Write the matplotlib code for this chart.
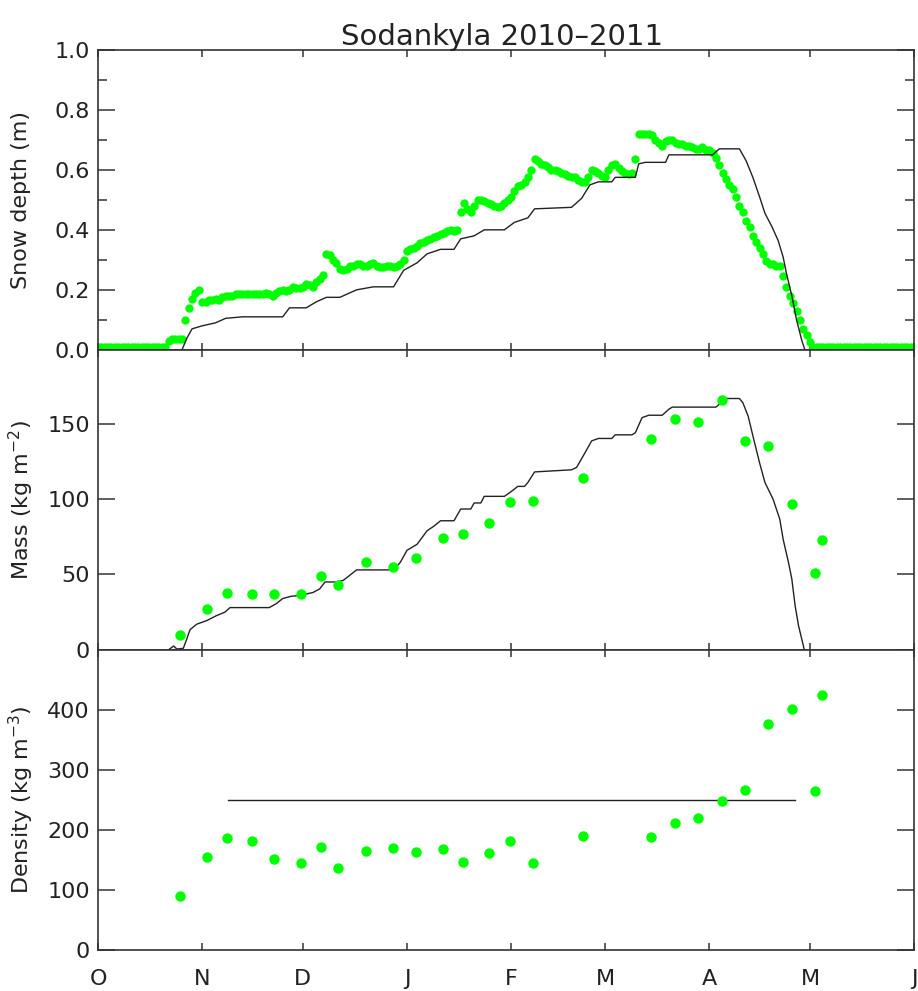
import numpy as np
import matplotlib
matplotlib.use('Agg')
import matplotlib.pyplot as plt

# x axis: days since 1 Oct 2010
month_days = [0, 31, 61, 92, 123, 151, 182, 212, 243]
month_labels = ['O', 'N', 'D', 'J', 'F', 'M', 'A', 'M', 'J']

# observed snow depth (m), one value per day from 1 Oct
obs_depth = [
    0.01, 0.01, 0.01, 0.01, 0.01, 0.01, 0.01, 0.01, 0.01, 0.01,
    0.01, 0.01, 0.01, 0.01, 0.01, 0.01, 0.01, 0.01, 0.01, 0.01,
    0.01,
    0.03, 0.035, 0.035, 0.035, 0.035, 0.10, 0.14, 0.17, 0.19, 0.20,
    0.16, 0.16, 0.165, 0.165, 0.17, 0.165, 0.175, 0.18, 0.18, 0.18,
    0.185, 0.185, 0.185, 0.185, 0.185, 0.185, 0.185, 0.185, 0.185, 0.19,
    0.185, 0.18, 0.19, 0.195, 0.20, 0.195, 0.20, 0.21, 0.205, 0.205,
    0.21, 0.22, 0.215, 0.21, 0.225, 0.235, 0.25, 0.32, 0.315, 0.30,
    0.29, 0.27, 0.265, 0.27, 0.28, 0.28, 0.285, 0.285, 0.28, 0.28,
    0.285, 0.29, 0.28, 0.275, 0.275, 0.28, 0.28, 0.275, 0.28, 0.285,
    0.30, 0.33, 0.335, 0.34, 0.345, 0.355, 0.36, 0.365, 0.37, 0.375,
    0.38, 0.385, 0.39, 0.395, 0.40, 0.395, 0.40, 0.46, 0.49, 0.47,
    0.46, 0.48, 0.50, 0.50, 0.495, 0.49, 0.485, 0.48, 0.475, 0.48,
    0.49, 0.50, 0.51, 0.53, 0.545, 0.55, 0.56, 0.575, 0.60, 0.635,
    0.63, 0.62, 0.615, 0.61, 0.60, 0.60, 0.595, 0.59, 0.585, 0.58,
    0.575, 0.575, 0.565, 0.56, 0.56, 0.575, 0.60, 0.595, 0.59, 0.58,
    0.575, 0.60, 0.615, 0.62, 0.605, 0.595, 0.59, 0.585, 0.59, 0.635,
    0.72, 0.72, 0.72, 0.72, 0.715, 0.70, 0.69, 0.68, 0.695, 0.70,
    0.70, 0.69, 0.685, 0.685, 0.68, 0.68, 0.675, 0.67, 0.67, 0.675,
    0.665, 0.665, 0.655, 0.64, 0.615, 0.59, 0.57, 0.55, 0.535, 0.51,
    0.48, 0.46, 0.43, 0.41, 0.38, 0.36, 0.34, 0.32, 0.295, 0.285,
    0.285, 0.28, 0.28, 0.245, 0.21, 0.18, 0.155, 0.13, 0.10, 0.07,
    0.05, 0.025,
    0.01, 0.01, 0.01, 0.01, 0.01, 0.01, 0.01, 0.01, 0.01, 0.01,
    0.01, 0.01, 0.01, 0.01, 0.01, 0.01, 0.01, 0.01, 0.01, 0.01,
    0.01, 0.01, 0.01, 0.01, 0.01, 0.01, 0.01, 0.01, 0.01, 0.01,
    0.01,
]
obs_days = np.arange(len(obs_depth))

# modelled snow depth (m)
model_depth_days = [0, 21, 25, 26.5, 28, 31, 35, 38, 43, 55, 57, 62, 65, 68, 72,
                    75, 77, 82, 88, 91, 95, 98, 102, 106, 108, 112, 115, 121,
                    124, 128, 130, 141, 144, 146.5, 149, 153, 154, 160, 161,
                    163, 169, 170, 183, 185, 191, 193, 195, 197, 198.6, 200.7,
                    202.5, 204, 205, 206.7, 208, 209.6, 210.5, 243]
model_depth = [0, 0, 0, 0.04, 0.07, 0.08, 0.09, 0.105, 0.11, 0.11, 0.14, 0.14,
               0.16, 0.175, 0.175, 0.19, 0.20, 0.21, 0.21, 0.265, 0.29, 0.32,
               0.335, 0.335, 0.37, 0.38, 0.40, 0.40, 0.425, 0.44, 0.47, 0.475,
               0.505, 0.55, 0.56, 0.56, 0.575, 0.575, 0.62, 0.625, 0.625,
               0.65, 0.65, 0.67, 0.67, 0.63, 0.575, 0.51, 0.455, 0.41, 0.365,
               0.31, 0.255, 0.175, 0.10, 0.03, 0, 0]

# modelled snow mass (kg m-2)
model_mass_days = [21, 22.5, 23.5, 25.4, 26.4, 27.4, 29.4, 32.4, 35.3, 37.8,
                   39.3, 51, 53, 55, 57.5, 60, 64, 66, 67.6, 71, 73, 75, 77,
                   88, 90, 92, 95, 98, 100, 102, 106, 108, 111, 112, 114, 115,
                   121, 122.7, 125, 127, 128, 130, 141, 142.5, 144.5, 147, 149,
                   153, 154, 159, 160, 162, 164, 168, 170, 171, 184, 187, 191,
                   192, 193.6, 195, 197, 198.6, 201, 203, 204, 205.6, 206.6,
                   207.6, 208.6, 210, 210.3]
model_mass = [0, 2.5, 0.5, 1, 7, 13.4, 17, 19.4, 22.7, 25, 28, 28, 30.5, 34,
              35.5, 36, 38, 40.4, 45, 45, 46, 49.5, 53, 53, 58, 66, 70, 79, 82,
              85.6, 85.6, 93.4, 93.4, 97.4, 97.4, 101.8, 101.8, 104.4, 108.4,
              108.4, 111, 118, 119.4, 121, 128.7, 138.6, 140.2, 140.2, 142.6,
              142.6, 144, 154, 155.6, 155.6, 159.6, 161, 161, 166.7, 166.7,
              164, 155, 142, 124, 111, 100, 86.8, 73.5, 58, 47, 29, 16, 3, 0]

# snow course samples
sample_days = [24.4, 32.4, 38.3, 45.8, 52.4, 60.5, 66.4, 71.6, 79.7, 87.8,
               94.7, 102.6, 108.6, 116.5, 122.7, 129.6, 144.5, 164.6, 171.8,
               178.6, 185.7, 192.6, 199.6, 206.8, 213.5, 215.7]
sample_mass = [9.5, 27, 38, 37, 37, 37, 49, 43, 58, 55, 61, 74, 77, 84, 98, 99,
               114, 140, 153, 151, 165.5, 138.6, 135, 96.7, 51, 73]
sample_density = [90, 154.5, 186, 182, 151, 145.5, 172, 136, 165, 170.5, 163,
                  168, 147, 161, 182, 145.5, 190, 188, 212, 220.5, 248, 267,
                  377, 401, 265, 425]

# fixed model density
model_density_days = [38.6, 207.6]
model_density = [250, 250]

green = '#00ff00'
axcol = '#333333'

fig = plt.figure(figsize=(9.18, 9.91), dpi=100)
left, width, height = 0.1068, 0.8889, 0.3027
ax1 = fig.add_axes([left, 0.6470, width, height])
ax2 = fig.add_axes([left, 0.3443, width, height])
ax3 = fig.add_axes([left, 0.0414, width, height])

ax1.plot(obs_days, obs_depth, 'o', color=green, ms=6, mec='none')
ax1.plot(model_depth_days, model_depth, color='#222222', lw=1.0)
ax1.set_ylim(0, 1.0)
ax1.set_yticks([0, 0.2, 0.4, 0.6, 0.8, 1.0])
ax1.set_yticklabels(['0.0', '0.2', '0.4', '0.6', '0.8', '1.0'])
ax1.set_yticks(np.arange(0.1, 1.0, 0.2), minor=True)
ax1.set_ylabel('Snow depth (m)')

ax2.plot(model_mass_days, model_mass, color='#222222', lw=1.0)
ax2.plot(sample_days, sample_mass, 'o', color=green, ms=7.5, mec='none')
ax2.set_ylim(0, 199)
ax2.set_yticks([0, 50, 100, 150])
ax2.set_ylabel('Mass (kg m$^{-2}$)')

ax3.plot(model_density_days, model_density, color='#222222', lw=1.0)
ax3.plot(sample_days, sample_density, 'o', color=green, ms=7.5, mec='none')
ax3.set_ylim(0, 500)
ax3.set_yticks([0, 100, 200, 300, 400])
ax3.set_ylabel('Density (kg m$^{-3}$)')

for ax in (ax1, ax2, ax3):
    ax.set_xlim(0, 243)
    ax.set_xticks(month_days)
    ax.set_xticklabels(month_labels)
    for s in ax.spines.values():
        s.set_color(axcol)
        s.set_linewidth(1.2)
    ax.tick_params(axis='both', which='both', direction='in', top=True,
                   right=True, colors=axcol, labelcolor='#222222', width=1.1,
                   labelsize=16)
    ax.tick_params(axis='x', length=4.7, pad=14)
    ax.tick_params(axis='y', which='major', length=12, pad=6)
    ax.tick_params(axis='y', which='minor', length=6.5)
    ax.yaxis.label.set_fontsize(16)
    ax.yaxis.label.set_color('#222222')
    ax.yaxis.label.set_va('center')
    ax.yaxis.set_label_coords(-0.094, 0.5)

ax1.tick_params(axis='x', labelbottom=False)
ax2.tick_params(axis='x', labelbottom=False)

fig.text(0.5465, 0.9546, 'Sodankyla 2010\u20132011', ha='center',
         va='baseline', fontsize=21, color='#222222')

fig.savefig('out.png', dpi=100)
